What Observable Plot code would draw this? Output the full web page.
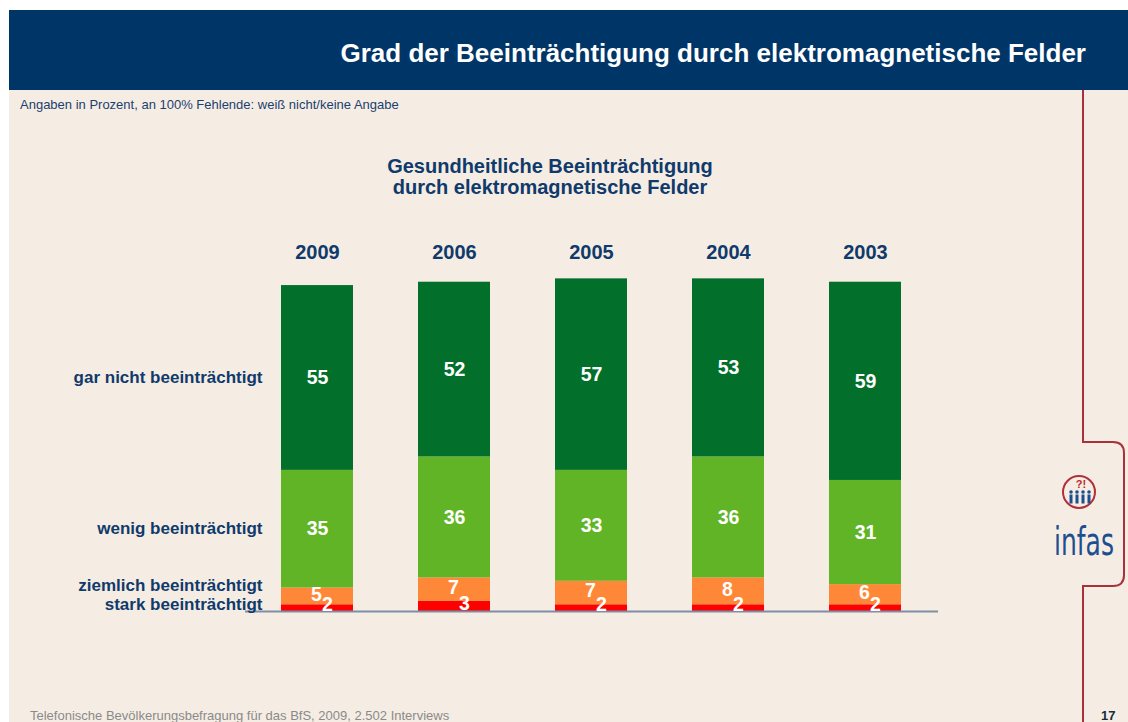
<!DOCTYPE html>
<html><head><meta charset="utf-8">
<script src="https://cdn.jsdelivr.net/npm/d3@7"></script>
<script src="https://cdn.jsdelivr.net/npm/@observablehq/plot@0.6"></script>
<style>
html,body{margin:0;padding:0;background:#fff;}
#page{position:relative;width:1128px;height:722px;overflow:hidden;background:#fff;font-family:"Liberation Sans",Arial,sans-serif;}
#bg{position:absolute;left:9px;top:10px;right:0;bottom:0;background:#f5ede3;}
#header{position:absolute;left:9px;top:10px;width:1119px;height:80px;background:#003567;}
#header span{position:absolute;right:42px;top:28px;line-height:30px;color:#fff;font-weight:bold;font-size:26px;white-space:nowrap;}
#sub{position:absolute;left:20px;top:97px;font-size:13px;line-height:16px;color:#1b3f70;white-space:nowrap;}
#ctitle{position:absolute;left:300px;width:500px;top:156px;text-align:center;font-size:20px;line-height:21px;font-weight:bold;color:#0f3a6b;}
#foot{position:absolute;left:30px;top:708px;font-size:13px;line-height:16px;color:#8a8a8a;white-space:nowrap;}
#pnum{position:absolute;left:1101px;top:708px;font-size:13px;line-height:16px;font-weight:bold;color:#1a2a40;}
#chart{position:absolute;left:0;top:230px;}
#deco{position:absolute;left:0;top:0;}
</style></head>
<body><div id="page">
<div id="bg"></div>
<div id="header"><span>Grad der Beeinträchtigung durch elektromagnetische Felder</span></div>
<div id="sub">Angaben in Prozent, an 100% Fehlende: weiß nicht/keine Angabe</div>
<div id="ctitle">Gesundheitliche Beeinträchtigung<br>durch elektromagnetische Felder</div>
<svg id="deco" width="1128" height="722">
  <path d="M1083,90 V442 H1113 Q1124,442 1124,453 V575 Q1124,586 1113,586 H1083 V722" fill="none" stroke="#a8323c" stroke-width="2"/>
  <circle cx="1079" cy="492" r="16" fill="none" stroke="#b03038" stroke-width="2"/>
  <text x="1081" y="488" text-anchor="middle" font-family="Liberation Sans" font-weight="bold" font-size="11" fill="#c0282e">?!</text>
  <g fill="#1d4f90">
    <circle cx="1071" cy="492" r="1.8"/><rect x="1069.5" y="494.5" width="3" height="9"/>
    <circle cx="1077" cy="492" r="1.8"/><rect x="1075.5" y="494.5" width="3" height="9"/>
    <circle cx="1083" cy="492" r="1.8"/><rect x="1081.5" y="494.5" width="3" height="9"/>
    <circle cx="1089" cy="492" r="1.8"/><rect x="1087.5" y="494.5" width="3" height="9"/>
  </g>
  <g transform="translate(1054,555) scale(1,1.4)">
    <text x="0" y="0" font-family="DejaVu Sans Condensed, DejaVu Sans" font-size="28" fill="#1d4f90" textLength="60" lengthAdjust="spacingAndGlyphs">infas</text>
  </g>
</svg>
<div id="chart"></div>
<div id="foot">Telefonische Bevölkerungsbefragung für das BfS, 2009, 2.502 Interviews</div>
<div id="pnum">17</div>
</div>
<script>
const years = ["2009", "2006", "2005", "2004", "2003"];
const categories = ["stark beeinträchtigt", "ziemlich beeinträchtigt", "wenig beeinträchtigt", "gar nicht beeinträchtigt"];
const stark = [2, 3, 2, 2, 2];
const ziemlich = [5, 7, 7, 8, 6];
const wenig = [35, 36, 33, 36, 31];
const garNicht = [55, 52, 57, 53, 59];
const colors = ["#fe0000", "#ff8838", "#61b425", "#026f2b"];

const series = [stark, ziemlich, wenig, garNicht];
const rows = [];
years.forEach((year, i) => {
  let acc = 0;
  series.forEach((vals, k) => {
    const v = vals[i];
    rows.push({year, cat: categories[k], k, value: v, y1: acc, y2: acc + v, mid: acc + v / 2});
    acc += v;
  });
});
const first = rows.filter(d => d.year === years[0]);
const labelDy = [-4, -11, -1, 0];

const plot = Plot.plot({
  width: 1128, height: 410,
  marginLeft: 245, marginRight: 190, marginTop: 45, marginBottom: 29,
  style: {background: "transparent", fontFamily: "Liberation Sans, Arial, sans-serif", overflow: "visible"},
  x: {domain: years, paddingInner: 0.471, paddingOuter: 0.2465},
  y: {domain: [0, 100], axis: null},
  color: {domain: categories, range: colors},
  marks: [
    Plot.barY(rows, {x: "year", y1: "y1", y2: "y2", fill: "cat"}),
    Plot.ruleY([0], {stroke: "#7f8ea6", strokeWidth: 2}),
    Plot.axisX({anchor: "top", tickSize: 0, tickPadding: 17, fontSize: 20, fontWeight: "bold", fill: "#0f3a6b", label: null}),
    Plot.text(rows.filter(d => d.k >= 2), {x: "year", y: "mid", text: "value", fill: "white", fontSize: 19.5, fontWeight: "bold"}),
    Plot.text(rows.filter(d => d.k === 1), {x: "year", y: "mid", text: "value", fill: "white", fontSize: 19.5, fontWeight: "bold", dx: -1, dy: -2}),
    Plot.text(rows.filter(d => d.k === 0), {x: "year", y: "mid", text: "value", fill: "white", fontSize: 19.5, fontWeight: "bold", dx: 10, dy: -3}),
    ...first.map(d => Plot.text([d], {x: "year", y: "mid", text: "cat", textAnchor: "end", dx: -55, dy: labelDy[d.k], fill: "#0f3a6b", fontSize: 17, fontWeight: "bold"}))
  ]
});
document.getElementById("chart").appendChild(plot);
</script>
</body></html>
